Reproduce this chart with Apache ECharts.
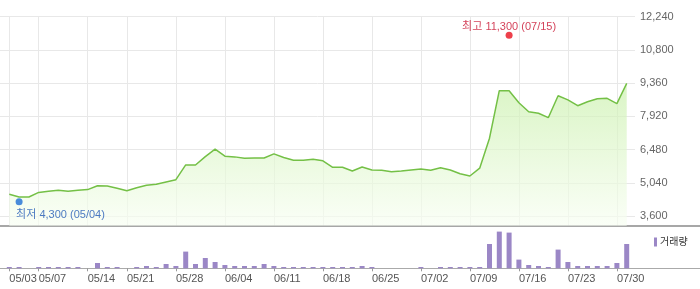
<!DOCTYPE html>
<html>
<head>
<meta charset="utf-8">
<script src="https://cdn.jsdelivr.net/npm/echarts@6/dist/echarts.min.js"></script>
<style>
html,body{margin:0;padding:0;background:#fff;}
#chart{width:700px;height:289px;}
</style>
</head>
<body>
<div id="chart"></div>
<script>
// ---- data ----
const dates = ['05/03','05/04','05/05','05/07','05/08','05/09','05/10','05/11',
  '05/14','05/15','05/16','05/17','05/21','05/22','05/23','05/24','05/25',
  '05/28','05/29','05/30','05/31','06/01','06/04','06/05','06/06','06/07','06/08',
  '06/11','06/12','06/13','06/14','06/15','06/18','06/19','06/20','06/21','06/22',
  '06/25','06/26','06/27','06/28','06/29','07/02','07/03','07/04','07/05','07/06',
  '07/09','07/10','07/11','07/12','07/13','07/16','07/17','07/18','07/19','07/20',
  '07/23','07/24','07/25','07/26','07/27','07/30','07/31'];
const labelDates = ['05/03','05/07','05/14','05/21','05/28','06/04','06/11','06/18',
  '06/25','07/02','07/09','07/16','07/23','07/30'];
const closePrice = [4540,4420,4420,4620,4670,4710,4670,4710,
  4740,4910,4900,4800,4690,4820,4930,4970,5070,
  5170,5810,5810,6170,6500,6190,6160,6100,6110,6110,
  6290,6130,6010,6010,6060,5990,5710,5710,5550,5720,
  5590,5580,5520,5550,5590,5630,5580,5690,5590,5430,
  5330,5670,6970,9030,9030,8510,8120,8050,7860,8810,
  8630,8380,8550,8680,8700,8470,9350];
const volume = [130,130,0,130,130,130,130,130,
  0,530,130,130,0,130,230,130,430,
  230,1670,430,1030,630,330,230,230,230,430,
  230,130,130,130,130,130,130,130,130,230,
  130,0,0,0,0,130,0,130,130,130,
  130,130,2430,3670,3570,870,330,230,130,1870,
  630,230,230,230,230,530,2430];
const yTicks = [3600,5040,6480,7920,9360,10800,12240];
const highPoint = {date:'07/13', value:11300, text:'최고 11,300 (07/15)'};
const lowPoint = {date:'05/04', value:4300, text:'최저 4,300 (05/04)'};
const volumeName = '거래량';

// ---- chart ----
const FONT = "'Liberation Sans', Arial, 'Noto Sans CJK KR', sans-serif";
const showAt = (i) => labelDates.indexOf(dates[i]) >= 0;
const chart = echarts.init(document.getElementById('chart'), null, {renderer:'canvas'});
const gridColor = '#e8e8e8';

chart.setOption({
  animation:false,
  textStyle:{fontFamily:FONT},
  legend:{
    data:[{name:volumeName, icon:'rect'}],
    left:649, top:232, itemWidth:3, itemHeight:9, itemGap:4,
    textStyle:{fontSize:10, color:'#333', fontFamily:FONT, padding:[0,0,0,-2]}
  },
  grid:[
    {left:9.3, right:73.3, top:16.7, height:209, containLabel:false}, // price
    {left:0, right:65, top:16.7, height:199.3}, // y label grid
    {left:9.3, right:73.3, top:225.7, height:42.6}, // volume
    {left:0, right:0, top:225.7, height:42.6} // frame lines
  ],
  xAxis:[
    {gridIndex:0, type:'category', data:dates, boundaryGap:false,
      axisLine:{show:false}, axisTick:{show:false}, axisLabel:{show:false},
      splitLine:{show:true, interval:(i)=>showAt(i), lineStyle:{color:gridColor, width:1}}},
    {gridIndex:1, type:'value', min:0, max:1, show:false},
    {gridIndex:2, type:'category', data:dates, boundaryGap:false,
      axisLine:{show:false},
      axisTick:{show:true, interval:(i)=>showAt(i), length:3, lineStyle:{color:'#999'}},
      axisLabel:{show:true, interval:(i)=>showAt(i), align:'left', margin:5,
        fontSize:11, color:'#555', fontFamily:FONT},
      splitLine:{show:false}},
    {gridIndex:3, type:'value', min:0, max:1, position:'bottom',
      axisLine:{show:true, onZero:false, lineStyle:{color:'#aaa', width:1}},
      axisTick:{show:false}, axisLabel:{show:false}, splitLine:{show:false}},
    {gridIndex:3, type:'value', min:0, max:1, position:'top',
      axisLine:{show:true, onZero:false, lineStyle:{color:'#8a8a8a', width:1.5}},
      axisTick:{show:false}, axisLabel:{show:false}, splitLine:{show:false}}
  ],
  yAxis:[
    {gridIndex:0, type:'value', min:3175, max:12240, show:false, splitLine:{show:false}},
    {gridIndex:1, type:'value', position:'right', min:yTicks[0], max:yTicks[yTicks.length-1], interval:1440,
      axisLine:{show:false}, axisTick:{show:false},
      axisLabel:{show:true, margin:5, fontSize:11, color:'#666', fontFamily:FONT,
        formatter:(v)=>v.toLocaleString('en-US')},
      splitLine:{show:true, lineStyle:{color:gridColor, width:1}}},
    {gridIndex:2, type:'value', min:0, max:4260, show:false, splitLine:{show:false}},
    {gridIndex:3, type:'value', min:0, max:1, show:false}
  ],
  series:[
    {type:'line', xAxisIndex:0, yAxisIndex:0, data:closePrice, symbol:'none',
      lineStyle:{color:'#74c046', width:1.5},
      areaStyle:{color:{type:'linear', x:0, y:17, x2:0, y2:226, global:true,
        colorStops:[{offset:0,color:'#b4e98b'},{offset:1,color:'#f8fef3'}]}}},
    {type:'scatter', xAxisIndex:0, yAxisIndex:0, z:5,
      data:[[highPoint.date, highPoint.value]], symbolSize:7, symbolOffset:[0,-3],
      itemStyle:{color:'#e8101e'},
      label:{show:true, position:'top', distance:1, offset:[0,2], formatter:highPoint.text,
        color:'#c8102e', fontSize:11, fontFamily:FONT}},
    {type:'scatter', xAxisIndex:0, yAxisIndex:0, z:5,
      data:[[lowPoint.date, lowPoint.value]], symbolSize:7, symbolOffset:[0,2],
      itemStyle:{color:'#1d6fd6'},
      label:{show:true, position:'bottom', distance:0, align:'left', offset:[-3,4],
        formatter:lowPoint.text, color:'#2159b5', fontSize:11, fontFamily:FONT}},
    {type:'bar', name:volumeName, xAxisIndex:2, yAxisIndex:2, data:volume,
      barWidth:5, itemStyle:{color:'#9b87c6'}}
  ]
});
</script>
</body>
</html>
